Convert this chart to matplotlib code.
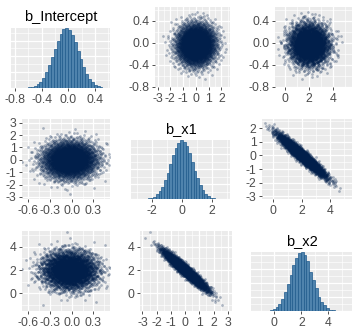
import numpy as np
import matplotlib
matplotlib.use("Agg")
import matplotlib.pyplot as plt
from matplotlib.ticker import FormatStrFormatter, FixedLocator, MaxNLocator
from statistics import NormalDist

plt.rcParams['font.family'] = ['Liberation Sans', 'DejaVu Sans']
plt.rcParams['axes.unicode_minus'] = False

# Posterior summary for the three coefficients
param_names = ["b_Intercept", "b_x1", "b_x2"]
post_mean = [-0.03, 0.0, 2.0]
post_sd = [0.18, 0.72, 0.78]
post_corr = [[1.00, 0.02, -0.02],
             [0.02, 1.00, -0.95],
             [-0.02, -0.95, 1.00]]
n_draws = 8000

# Tick breaks per parameter (hist / upper panels / lower panels)
hist_ticks = [[-0.8, -0.4, 0.0, 0.4], [-2, 0, 2], [0, 2, 4]]
upper_ticks = [[-0.8, -0.4, 0.0, 0.4], [-3, -2, -1, 0, 1, 2], [0, 2, 4]]
lower_ticks = [[-0.6, -0.3, 0.0, 0.3], [-3, -2, -1, 0, 1, 2, 3], [0, 2, 4]]
tick_fmt = ['%.1f', '%d', '%d']

# Axis ranges
hist_lim = [(-0.86, 0.625), (-3.38, 3.2), (-1.73, 5.74)]
upper_lim = [(-0.80, 0.65), (-3.2, 2.67), (-0.8, 5.55)]
lower_lim = [(-0.69, 0.53), (-3.17, 3.3), (-1.5, 5.35)]

PANEL_BG = '#EBEBEB'
HIST_FILL = '#4f83ad'
HIST_EDGE = '#1f5a8c'
POINT_COL = '#011f4b'


def radical_inverse(n, base):
    out = np.zeros(len(n))
    f = 1.0 / base
    n = n.copy()
    while n.any():
        out += f * (n % base)
        n //= base
        f /= base
    return out


def build_draws():
    # Halton normal scores, then correlate and scale
    k = np.arange(1, n_draws + 1)
    u = np.column_stack([radical_inverse(k, b) for b in (2, 3, 5)])
    nd = NormalDist()
    z = np.vectorize(nd.inv_cdf)(np.clip(u, 1e-6, 1 - 1e-6))
    sd = np.array(post_sd)
    cov = np.array(post_corr) * np.outer(sd, sd)
    L = np.linalg.cholesky(cov)
    return np.array(post_mean) + z @ L.T


def minor_breaks(major, lim):
    step = major[1] - major[0]
    cand = [major[0] - step / 2] + [m + step / 2 for m in major]
    return [c for c in cand if lim[0] <= c <= lim[1]]


def style_axis(ax):
    ax.set_facecolor(PANEL_BG)
    for s in ax.spines.values():
        s.set_visible(False)
    ax.tick_params(which='major', color='#333333', length=2.5, width=0.6,
                   labelcolor='#4D4D4D', labelsize=8.8, pad=1.5)
    ax.tick_params(which='minor', length=0)
    ax.grid(which='major', color='white', linewidth=0.9)
    ax.grid(which='minor', color='white', linewidth=0.45)
    ax.set_axisbelow(True)


def set_scale(axis, ticks, lim, fmt):
    axis.set_major_locator(FixedLocator(ticks))
    axis.set_minor_locator(FixedLocator(minor_breaks(ticks, lim)))
    axis.set_major_formatter(FormatStrFormatter(fmt))


draws = build_draws()
half = n_draws // 2
upper = draws[:half]
lower = draws[half:]

fig = plt.figure(figsize=(3.6, 3.36), dpi=100)
W, H = 360, 336

# panel rectangles in pixels: left, top, right, bottom
rects = {
    (0, 0): (11, 28, 110, 88), (0, 1): (155, 7, 230, 87), (0, 2): (275, 7, 352, 87),
    (1, 0): (22, 119, 110, 199), (1, 1): (131, 140, 230, 199), (1, 2): (262, 119, 352, 199),
    (2, 0): (22, 231, 110, 311), (2, 1): (140, 231, 232, 311), (2, 2): (251, 252, 352, 311),
}

for (r, c), (x0, y0, x1, y1) in rects.items():
    ax = fig.add_axes([x0 / W, 1 - y1 / H, (x1 - x0) / W, (y1 - y0) / H])
    style_axis(ax)
    if r == c:
        counts, _, _ = ax.hist(draws[:, c], bins=30, color=HIST_FILL,
                               edgecolor=HIST_EDGE, linewidth=0.5)
        ax.set_xlim(*hist_lim[c])
        ax.set_ylim(0, counts.max())
        set_scale(ax.xaxis, hist_ticks[c], hist_lim[c], tick_fmt[c])
        ax.yaxis.set_major_locator(MaxNLocator(5))
        yt = ax.get_yticks()
        ax.yaxis.set_minor_locator(FixedLocator(yt[:-1] + (yt[1] - yt[0]) / 2))
        ax.tick_params(axis='y', which='both', length=0, labelleft=False)
        ax.set_title(param_names[c], fontsize=10.5, color='black', pad=5)
    else:
        part = upper if c > r else lower
        lims = upper_lim if c > r else lower_lim
        ticks = upper_ticks if c > r else lower_ticks
        ax.scatter(part[:, c], part[:, r], s=4, color=POINT_COL, alpha=0.3,
                   linewidths=0)
        ax.set_xlim(*lims[c])
        ax.set_ylim(*lims[r])
        set_scale(ax.xaxis, ticks[c], lims[c], tick_fmt[c])
        set_scale(ax.yaxis, ticks[r], lims[r], tick_fmt[r])

fig.savefig('out.png', dpi=100, facecolor='white')
